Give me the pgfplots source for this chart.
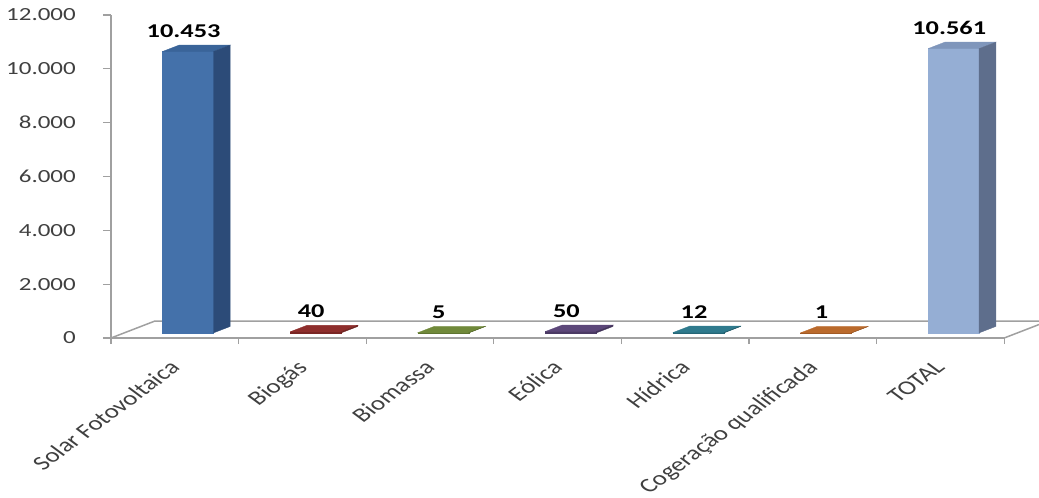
\documentclass[border=0pt]{standalone}
\usepackage{pgfplots}
\pgfplotsset{compat=1.18}
\usepackage{fontspec}
\setmainfont{Carlito}
\newfontfamily\widefont{Carlito}[FakeStretch=1.35]

\definecolor{axisgray}{HTML}{A0A0A0}
\definecolor{ticktext}{HTML}{404040}
% front / top / side shades of each bar
\definecolor{solF}{HTML}{4471AA}\definecolor{solT}{HTML}{3A6499}\definecolor{solS}{HTML}{2C4B78}
\definecolor{bioF}{HTML}{7A2624}\definecolor{bioT}{HTML}{8E2E2C}\definecolor{bioS}{HTML}{6E2220}
\definecolor{masF}{HTML}{5E7431}\definecolor{masT}{HTML}{70893A}\definecolor{masS}{HTML}{536629}
\definecolor{eolF}{HTML}{4B3A64}\definecolor{eolT}{HTML}{5C4779}\definecolor{eolS}{HTML}{42335A}
\definecolor{hidF}{HTML}{266676}\definecolor{hidT}{HTML}{2F7A8D}\definecolor{hidS}{HTML}{215A68}
\definecolor{cogF}{HTML}{9E5824}\definecolor{cogT}{HTML}{BA6A2C}\definecolor{cogS}{HTML}{8C4E20}
\definecolor{totF}{HTML}{95AED4}\definecolor{totT}{HTML}{7F96BB}\definecolor{totS}{HTML}{5E6E8C}

\pgfkeys{/pgf/number format/.cd,1000 sep={.},assume math mode=true}

\newcommand{\tickfont}{\widefont\fontsize{18.5}{22}\selectfont}
\newcommand{\catfont}{\fontsize{20}{24}\selectfont}
\newcommand{\valfont}{\widefont\bfseries\fontsize{19.5}{23}\selectfont}

% one 3D bar: #1 left x, #2 right x, #3 centre x, #4 value, #5 front, #6 top, #7 side
\newcommand{\cuboid}[7]{%
  \addplot3[fill=#5, draw=#5, line width=0.3pt] coordinates
    {(#1,0.30,0) (#2,0.30,0) (#2,0.30,#4) (#1,0.30,#4) (#1,0.30,0)};
  \addplot3[fill=#6, draw=#6, line width=0.3pt] coordinates
    {(#1,0.30,#4) (#2,0.30,#4) (#2,0.68,#4) (#1,0.68,#4) (#1,0.30,#4)};
  \addplot3[fill=#7, draw=#7, line width=0.3pt] coordinates
    {(#2,0.30,0) (#2,0.68,0) (#2,0.68,#4) (#2,0.30,#4) (#2,0.30,0)};
  \node[anchor=base, inner sep=0pt, yshift=16pt, font=\valfont, text=black]
    at (axis cs:#3,0.2,#4) {\pgfmathprintnumber{#4}};
}

\begin{document}
\begin{tikzpicture}
\path[use as bounding box] (-111pt,-160pt) rectangle (928pt,338pt);

% value axis, category axis and their labels
\begin{axis}[
  anchor=origin, at={(0pt,0pt)},
  x={(127.6pt,0pt)}, y={(0pt,0.026917pt)},
  xmin=0, xmax=7, ymin=0, ymax=12000,
  axis lines*=left,
  axis line style={draw=axisgray, line width=1.5pt},
  clip=false,
  tick align=outside,
  major tick length=8pt,
  minor tick length=6pt,
  tick style={draw=axisgray, line width=1.3pt},
  major x tick style={draw=none},
  ytick={0,2000,...,12000},
  scaled y ticks=false,
  xtick={0.5,1.5,...,6.5},
  minor xtick={0,1,...,7},
  xticklabels={Solar Fotovoltaica, Biogás, Biomassa, Eólica, Hídrica,
               Cogeração qualificada, TOTAL},
  yticklabel style={anchor=east, inner sep=0pt, xshift=-27pt,
                    font=\tickfont, text=ticktext},
  xticklabel style={anchor=north east, inner sep=0pt, yshift=-13pt, xshift=-7pt,
                    cm={0.9546,0.7071,-0.9546,0.7071,(0,0)},
                    font=\catfont, text=ticktext},
]
\end{axis}

% floor and bars in oblique projection
\begin{axis}[
  anchor=origin, at={(0pt,0pt)},
  x={(127.6pt,0pt)}, y={(44pt,17pt)}, z={(0pt,0.026917pt)},
  xmin=0, xmax=7, ymin=0, ymax=1, zmin=0, zmax=12000,
  hide axis, clip=false,
]
\draw[axisgray, line width=1.5pt]
  (axis cs:0,0,0) -- (axis cs:0,1,0) -- (axis cs:7,1,0) -- (axis cs:7,0,0);
\cuboid{0.30}{0.70}{0.5}{10453}{solF}{solT}{solS}
\cuboid{1.30}{1.70}{1.5}{40}{bioF}{bioT}{bioS}
\cuboid{2.30}{2.70}{2.5}{5}{masF}{masT}{masS}
\cuboid{3.30}{3.70}{3.5}{50}{eolF}{eolT}{eolS}
\cuboid{4.30}{4.70}{4.5}{12}{hidF}{hidT}{hidS}
\cuboid{5.30}{5.70}{5.5}{1}{cogF}{cogT}{cogS}
\cuboid{6.30}{6.70}{6.5}{10561}{totF}{totT}{totS}
\end{axis}
\end{tikzpicture}
\end{document}
